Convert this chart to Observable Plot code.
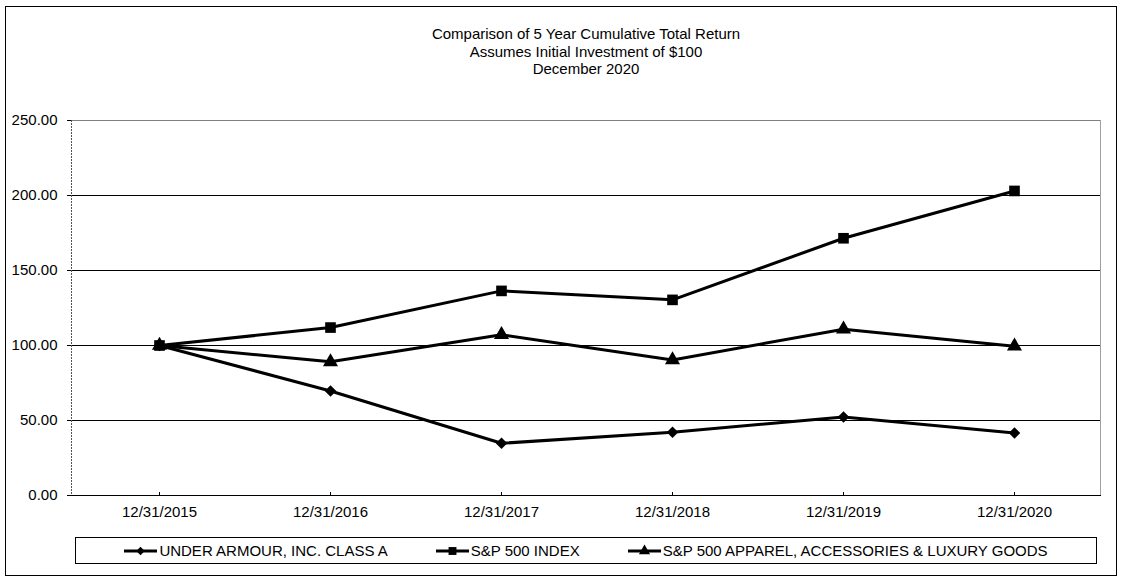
<!DOCTYPE html>
<html>
<head>
<meta charset="utf-8">
<script src="https://cdn.jsdelivr.net/npm/d3@7"></script>
<script src="https://cdn.jsdelivr.net/npm/@observablehq/plot@0.6"></script>
<style>
  body { margin: 0; background: #fff; font-family: "Liberation Sans", Arial, sans-serif; color: #000; }
  #wrap { position: relative; width: 1121px; height: 582px; overflow: hidden; }
  #border { position: absolute; left: 5px; top: 6px; width: 1112px; height: 570px; border: 1.5px solid #000; box-sizing: border-box; }
  #title { position: absolute; left: 71px; width: 1030px; top: 25px; text-align: center; font-size: 15px; line-height: 17.5px; }
  #chart { position: absolute; left: 0; top: 0; }
  #legend { position: absolute; left: 75px; top: 537px; width: 1022px; height: 27px; border: 1px solid #000; box-sizing: border-box;
            display: flex; justify-content: center; align-items: center; gap: 48px; font-size: 15px; }
  .item { display: flex; align-items: center; white-space: nowrap; }
  .item svg { margin-right: 2px; }
</style>
</head>
<body>
<div id="wrap">
  <div id="border"></div>
  <div id="chart"></div>
  <div id="title">Comparison of 5 Year Cumulative Total Return<br>Assumes Initial Investment of $100<br>December 2020</div>
  <div id="legend"></div>
</div>
<script>
const dates = ["12/31/2015", "12/31/2016", "12/31/2017", "12/31/2018", "12/31/2019", "12/31/2020"];
const seriesNames = ["UNDER ARMOUR, INC. CLASS A", "S&P 500 INDEX", "S&P 500 APPAREL, ACCESSORIES & LUXURY GOODS"];
const underArmour = [100.00, 69.7, 34.8, 42.2, 52.3, 41.6];
const sp500 = [100.00, 111.96, 136.40, 130.42, 171.49, 203.04];
const apparel = [100.00, 89.1, 107.2, 90.4, 110.9, 99.5];
const yTicks = [0, 50, 100, 150, 200, 250];
const symbols = ["diamond2", "square", "triangle"];
const symbolR = [5.2, 6.0, 5.6];

const seriesValues = [underArmour, sp500, apparel];
const rows = [];
seriesNames.forEach((name, i) => {
  dates.forEach((d, j) => rows.push({series: name, date: d, value: seriesValues[i][j]}));
});

const frameMark = (index, scales, values, dims) => {
  const l = dims.marginLeft, r = dims.width - dims.marginRight;
  const t = dims.marginTop, b = dims.height - dims.marginBottom;
  const g = d3.create("svg:g");
  g.append("line").attr("x1", l).attr("x2", r).attr("y1", t + 0.5).attr("y2", t + 0.5).attr("stroke", "#808080");
  g.append("line").attr("x1", r - 0.5).attr("x2", r - 0.5).attr("y1", t).attr("y2", b).attr("stroke", "#a0a0a0");
  g.append("line").attr("x1", l + 0.5).attr("x2", l + 0.5).attr("y1", t).attr("y2", b)
    .attr("stroke", "#555").attr("stroke-dasharray", "2,1");
  // small upward category ticks on the bottom axis
  const gt = g.append("g");
  scales.x.domain().forEach(d => {
    const xx = Math.round(scales.x(d)) + 0.5;
    gt.append("line").attr("x1", xx).attr("x2", xx).attr("y1", b - 3).attr("y2", b).attr("stroke", "#000");
  });
  return g.node();
};

const chart = Plot.plot({
  width: 1121,
  height: 582,
  marginLeft: 71,
  marginRight: 20,
  marginTop: 120,
  marginBottom: 87,
  style: { fontFamily: "Liberation Sans, Arial, sans-serif", fontSize: "15px", color: "#000", background: "transparent", overflow: "visible" },
  x: { type: "point", domain: dates, padding: 0.5, label: null, tickSize: 0, tickPadding: 11 },
  y: { domain: [0, 250], ticks: yTicks, tickFormat: d3.format(".2f"), label: null, tickSize: 4, tickPadding: 10 },
  marks: [
    Plot.ruleY(yTicks.filter(v => v > 0 && v < 250), { stroke: "#000", strokeWidth: 1 }),
    frameMark,
    Plot.ruleY([0], { stroke: "#000", strokeWidth: 1 }),
    Plot.line(rows, { x: "date", y: "value", z: "series", stroke: "#000", strokeWidth: 3, strokeLinejoin: "round" }),
    ...seriesNames.map((name, i) =>
      Plot.dot(rows.filter(d => d.series === name), { x: "date", y: "value", symbol: symbols[i], fill: "#000", stroke: "none", r: symbolR[i] })
    )
  ]
});
document.getElementById("chart").appendChild(chart);

// legend
const d3Symbols = { diamond2: d3.symbolDiamond2, square: d3.symbolSquare, triangle: d3.symbolTriangle };
const legend = d3.select("#legend");
seriesNames.forEach((name, i) => {
  const item = legend.append("div").attr("class", "item");
  const svg = item.append("svg").attr("width", 33).attr("height", 14);
  svg.append("line").attr("x1", 0).attr("x2", 33).attr("y1", 7).attr("y2", 7).attr("stroke", "#000").attr("stroke-width", 3);
  svg.append("path").attr("transform", "translate(16.5,7)")
    .attr("d", d3.symbol(d3Symbols[symbols[i]], Math.PI * symbolR[i] * symbolR[i] * 0.55)());
  item.append("span").text(name);
});
</script>
</body>
</html>
